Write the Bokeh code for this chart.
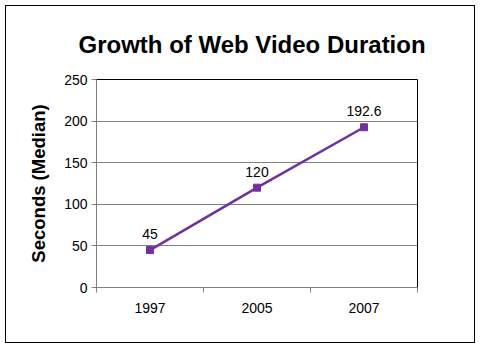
from bokeh.plotting import figure
from bokeh.models import ColumnDataSource, FixedTicker, LabelSet
from bokeh.core.properties import value
from bokeh.embed import file_html
from bokeh.resources import INLINE

# ---- data ----
categories = ["1997", "2005", "2007"]
seconds_median = [45, 120, 192.6]
value_labels = ["45", "120", "192.6"]
y_ticks = [0, 50, 100, 150, 200, 250]

FONT = "Liberation Sans"
PURPLE = "#7030A0"
GREY = "#808080"

xpos = [i + 0.5 for i in range(len(categories))]
src = ColumnDataSource(dict(x=xpos, y=seconds_median, lab=value_labels))

p = figure(width=468, height=336, output_backend="svg", toolbar_location=None,
           x_range=(0, len(categories)), y_range=(0, 250),
           min_border_left=90, min_border_right=57,
           min_border_top=73, min_border_bottom=55,
           margin=(6, 0, 0, 6),
           styles={"outline": "1px solid black"},
           title="Growth of Web Video Duration")
p.background_fill_color = "white"
p.border_fill_color = "white"
p.outline_line_color = "black"
p.outline_line_width = 1

# title
p.title.align = "left"
p.title.offset = -18
p.title.vertical_align = "bottom"
p.title.standoff = 43
p.title.text_font = FONT
p.title.text_font_style = "bold"
p.title.text_font_size = "24px"
p.title.text_color = "black"

# grid
p.xgrid.visible = False
p.ygrid.ticker = FixedTicker(ticks=y_ticks)
p.ygrid.grid_line_color = GREY
p.ygrid.grid_line_width = 1

# y axis
p.yaxis.ticker = FixedTicker(ticks=y_ticks)
p.yaxis.axis_line_color = GREY
p.yaxis.major_tick_line_color = GREY
p.yaxis.major_tick_out = 5
p.yaxis.major_tick_in = 0
p.yaxis.minor_tick_line_color = None
p.yaxis.major_label_text_font = FONT
p.yaxis.major_label_text_font_size = "14px"
p.yaxis.major_label_text_color = "black"
p.yaxis.major_label_standoff = 4
p.yaxis.axis_label = "Seconds (Median)"
p.yaxis.axis_label_text_font = FONT
p.yaxis.axis_label_text_font_style = "bold"
p.yaxis.axis_label_text_font_size = "18.5px"
p.yaxis.axis_label_text_color = "black"
p.yaxis.axis_label_standoff = 12

# x axis (category labels centred, tick marks at category boundaries)
p.xaxis.ticker = FixedTicker(ticks=xpos, minor_ticks=list(range(len(categories) + 1)))
p.xaxis.major_label_overrides = {x: c for x, c in zip(xpos, categories)}
p.xaxis.axis_line_color = GREY
p.xaxis.major_tick_out = 0
p.xaxis.major_tick_in = 0
p.xaxis.minor_tick_line_color = GREY
p.xaxis.minor_tick_out = 5
p.xaxis.minor_tick_in = 0
p.xaxis.major_label_text_font = FONT
p.xaxis.major_label_text_font_size = "14px"
p.xaxis.major_label_text_color = "black"
p.xaxis.major_label_standoff = 10

# series
p.line("x", "y", source=src, line_color=PURPLE, line_width=2.5)
p.scatter("x", "y", source=src, marker="square", size=7, fill_color=PURPLE, line_color=PURPLE)

labels = LabelSet(x="x", y="y", text="lab", source=src, text_align="center",
                  text_baseline="bottom", y_offset=11, text_font=value(FONT),
                  text_font_size=value("14px"), text_color="black")
p.add_layout(labels)

open("out.html", "w").write(file_html(p, INLINE))
